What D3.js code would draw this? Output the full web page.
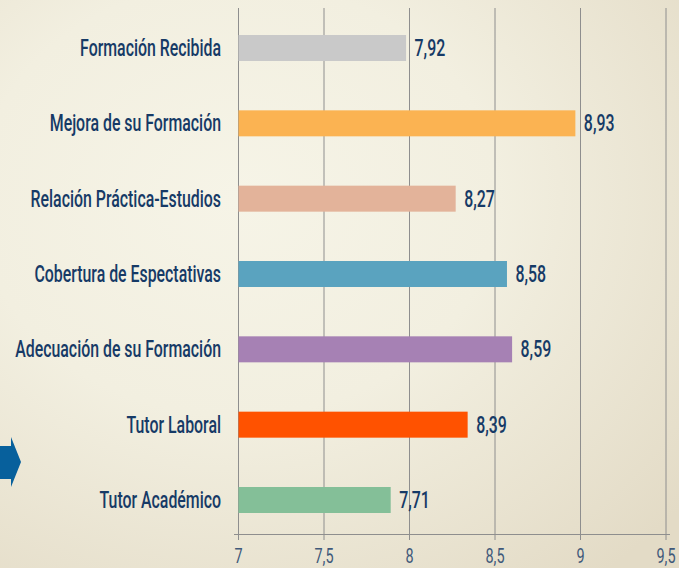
<!DOCTYPE html>
<html>
<head>
<meta charset="utf-8">
<script src="https://cdn.jsdelivr.net/npm/d3@7"></script>
<style>
  html, body { margin: 0; padding: 0; overflow: hidden; }
  body { width: 679px; height: 568px; }
  text { font-family: Roboto, "Liberation Sans", sans-serif; }
</style>
</head>
<body>
<div id="chart"></div>
<script>
/* Valoración de las prácticas - barras horizontales */

const categories = ["Formación Recibida", "Mejora de su Formación", "Relación Práctica-Estudios",
  "Cobertura de Espectativas", "Adecuación de su Formación", "Tutor Laboral", "Tutor Académico"];
// bar lengths as drawn in the picture
const values = [7.98, 8.97, 8.27, 8.57, 8.60, 8.34, 7.89];
// value labels as printed
const valueLabels = ["7,92", "8,93", "8,27", "8,58", "8,59", "8,39", "7,71"];
const colors = ["#c9c9c9", "#fbb352", "#e3b39a", "#5aa3bf", "#a681b4", "#ff5200", "#84bf98"];
const ticks = [7, 7.5, 8, 8.5, 9, 9.5];

const width = 679,
  height = 568,
  barH = 26,
  fontSize = 22,
  sy = 1.08;

const svg = d3.select("#chart")
  .append("svg")
  .attr("width", width)
  .attr("height", height);

const defs = svg.append("defs");
const grad = defs.append("radialGradient")
  .attr("id", "bg")
  .attr("cx", "35%").attr("cy", "35%").attr("r", "85%");
grad.append("stop").attr("offset", "0%").attr("stop-color", "#f6f4e7");
grad.append("stop").attr("offset", "45%").attr("stop-color", "#f2efe0");
grad.append("stop").attr("offset", "100%").attr("stop-color", "#e3dbc6");

svg.append("rect")
  .attr("width", width)
  .attr("height", height)
  .attr("fill", "url(#bg)");

// condensed look: squeeze text horizontally so the longest label is ~206px wide
const probe = svg.append("text")
  .attr("font-size", fontSize)
  .attr("font-weight", 500)
  .text("Adecuación de su Formación");
const sx = 206 / probe.node().getComputedTextLength();
probe.remove();

const x = d3.scaleLinear()
  .domain([7, 9.5])
  .range([238, 665.5]);

const y = d3.scalePoint()
  .domain(categories)
  .range([48, 500]);

// gridlines
svg.append("g")
  .selectAll("line")
  .data(ticks)
  .join("line")
  .attr("x1", d => x(d) + 0.5)
  .attr("x2", d => x(d) + 0.5)
  .attr("y1", 8)
  .attr("y2", 540)
  .attr("stroke", "#8e8e8e")
  .attr("stroke-width", 1);

// bottom axis
svg.append("line")
  .attr("x1", 234).attr("x2", 670)
  .attr("y1", 534.5).attr("y2", 534.5)
  .attr("stroke", "#8e8e8e");

svg.append("g")
  .selectAll("text")
  .data(ticks)
  .join("text")
  .text(d => String(d).replace(".", ","))
  .attr("transform", d => `translate(${x(d) + 0.5},563) scale(${sx},1)`)
  .attr("text-anchor", "middle")
  .attr("font-size", 20)
  .attr("fill", "#40597a");

// bars
const g = svg.append("g")
  .selectAll("g")
  .data(categories)
  .join("g");

g.append("rect")
  .attr("x", x(7) + 0.5)
  .attr("y", d => y(d) - barH / 2)
  .attr("width", (d, i) => x(values[i]) - x(7))
  .attr("height", barH)
  .attr("fill", (d, i) => colors[i]);

g.append("text")
  .text((d, i) => valueLabels[i])
  .attr("transform", (d, i) => `translate(${x(values[i]) + 9},${y(d) + 8}) scale(${sx},${sy})`)
  .attr("font-size", fontSize)
  .attr("font-weight", 500)
  .attr("fill", "#163a66");

g.append("text")
  .text(d => d)
  .attr("transform", d => `translate(221,${y(d) + 8}) scale(${sx},${sy})`)
  .attr("text-anchor", "end")
  .attr("font-size", fontSize)
  .attr("font-weight", 500)
  .attr("fill", "#163a66");

// blue arrow on the left edge
svg.append("path")
  .attr("d", "M0,446 L11,446 L11,437 L21,462 L11,487 L11,479 L0,479 Z")
  .attr("fill", "#07609c");
</script>
</body>
</html>
